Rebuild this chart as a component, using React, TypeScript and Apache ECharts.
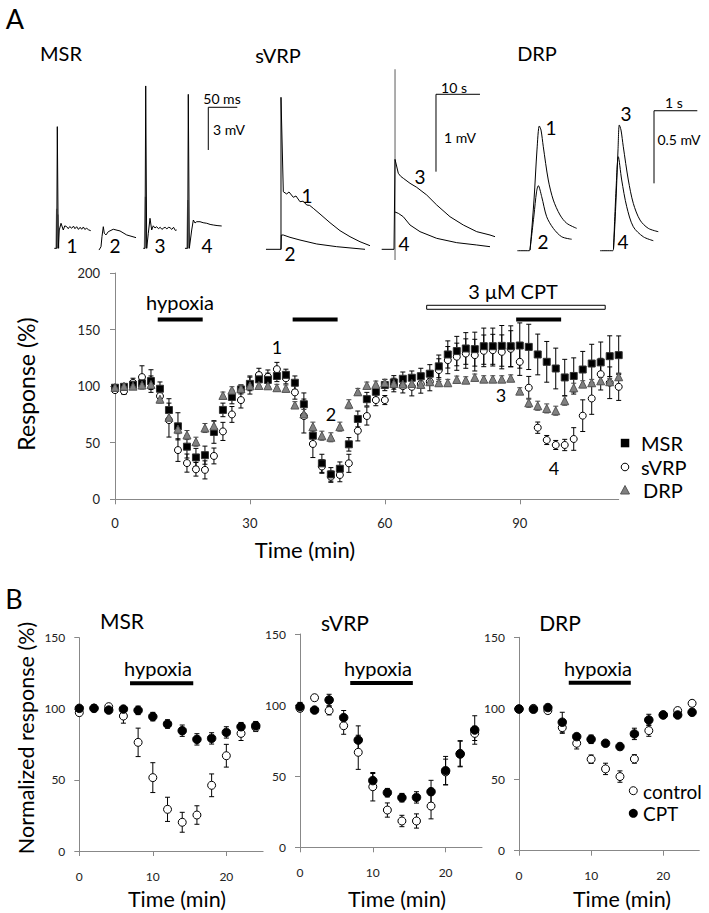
import React, { useEffect, useRef } from "react";
import * as echarts from "echarts";

const FONT = "Lato, 'Open Sans', 'DejaVu Sans', sans-serif";

// ---------- Panel A: time course (min, % response) ----------
const timeA = [0, 2, 4, 6, 8, 10, 12, 14, 16, 18, 20, 22, 24, 26, 28, 30, 32, 34, 36, 38, 40, 42, 44, 46, 48, 50, 52, 54, 56, 58, 60, 62, 64, 66, 68, 70, 72, 74, 76, 78, 80, 82, 84, 86, 88, 90, 92, 94, 96, 98, 100, 102, 104, 106, 108, 110, 112];
const msrA = [98.6, 99.4, 101.2, 102.5, 104.5, 97.7, 78.9, 64.5, 46.5, 37, 39, 59.5, 79, 90.4, 97.1, 102, 106, 105.5, 109, 110, 103, 84, 56.2, 31.8, 22, 27, 48.6, 71, 88.5, 95, 101, 103.3, 106.5, 107.4, 108.8, 111, 117.5, 128, 131, 133.3, 132.7, 135.3, 135.3, 135.6, 135.3, 135.9, 134.7, 128, 121.5, 115.6, 107.7, 109, 114.7, 120, 121, 126.5, 127.4];
const msrErrA = [2, 2, 3, 5, 10, 6, 10, 12, 10, 8, 8, 10, 6, 6, 4, 6, 6, 6, 5, 5, 6, 10, 6, 8, 6, 6, 6, 7, 6, 5, 5, 6, 6, 6, 7, 8, 10, 12, 13, 14, 15, 16, 16, 18, 18, 20, 20, 18, 18, 18, 16, 16, 16, 17, 18, 18, 17];
const svrpA = [96.5, 95.6, 103, 108, 103, 91.2, 70, 43.5, 32, 26.5, 26, 38.3, 60, 75, 87.7, 101, 109.8, 108.3, 115, 107, 94.5, 73.6, 48.9, 29, 20, 21.5, 31.8, 60.6, 73.6, 87.7, 87.7, 101, 100, 99.4, 101.8, 103.9, 114.2, 123, 126, 128.8, 127.4, 131.2, 131.8, 130.3, 133, 121.5, 98.6, 63.3, 52.4, 48, 48, 53.3, 73.9, 89.1, 110.6, 103, 99.4];
const svrpErrA = [2, 3, 4, 10, 6, 6, 15, 10, 8, 6, 8, 7, 8, 7, 7, 8, 6, 6, 6, 5, 6, 15, 12, 6, 5, 6, 8, 9, 8, 5, 4, 6, 6, 8, 8, 8, 10, 12, 12, 13, 14, 14, 14, 15, 16, 12, 10, 5, 4, 4, 5, 10, 14, 14, 14, 14, 12];
const drpA = [99, 100, 100, 101, 101.5, 88.5, 72.5, 62, 56.8, 50.9, 63, 64.8, 91.8, 96.5, 98, 100.3, 100.6, 100.3, 98.6, 98, 83.3, 75.4, 64.2, 56.2, 54.8, 64.2, 84, 95, 100.6, 101.5, 103, 102.4, 101.8, 102.4, 101.5, 103.9, 103, 103, 105.9, 105.3, 107.7, 106.2, 106.2, 106.2, 107, 95.6, 85.3, 82.7, 80.3, 78.3, 87.1, 98.6, 101.8, 103, 104.7, 103.9, 108.3];
const drpErrA = [2, 2, 2, 2, 3, 3, 4, 4, 4, 4, 4, 4, 3, 3, 3, 3, 3, 3, 3, 3, 3, 4, 4, 4, 4, 4, 4, 3, 3, 3, 3, 3, 3, 3, 3, 3, 3, 3, 3, 3, 3, 3, 3, 3, 3, 3, 4, 4, 4, 4, 4, 4, 3, 3, 3, 3, 3];
const xTicksA = [0, 30, 60, 90];
// [start, end, level]
const hypoxiaA = [[9.5, 19.5, 159], [39.5, 49.5, 159], [89.2, 99.2, 159]];
const cptA = [[69.3, 109, 169.7]];

// ---------- Panel A: example traces ----------
// MSR (ms, mV)
const msrTrace1 = [[7.4, 0.82], [11.6, 0.82], [12.6, 9.37], [14.3, 0.82], [16.0, 2.11], [19.0, 2.58], [22.9, 2.11], [25.5, 2.4], [28.8, 2.34], [31.5, 2.2], [34, 2.35], [37.4, 2.23], [40.5, 2.38], [43, 2.2], [46.0, 2.34], [49, 2.15], [52, 2.3], [54.6, 2.16], [57.5, 2.32], [60, 2.15], [63.3, 2.23], [66.5, 2.12], [70.2, 2.06]];
const msrTrace2 = [[84.5, 0.7], [87.9, 0.93], [89.6, 1.64], [91.9, 2.34], [93.6, 1.88], [96.5, 1.76], [100.5, 1.99], [109.1, 2.16], [120.7, 2.04], [132.2, 1.76], [148.3, 1.57]];
const msrTrace3 = [[160.8, 0.82], [163.8, 0.82], [165.0, 12.23], [166.7, 0.82], [169.5, 1.88], [172.4, 2.93], [175.3, 2.11], [178, 2.4], [181, 2.25], [183.9, 2.34], [187, 2.2], [190, 2.3], [193, 2.15], [195.3, 2.23], [198.5, 2.3], [201.5, 2.18], [204, 2.3], [206.9, 2.27], [210, 2.15], [213, 2.3], [216, 2.08], [218.4, 2.11]];
const msrTrace4 = [[232.7, 0.82], [237.4, 0.82], [238.4, 11.64], [240.2, 0.82], [244.3, 2.11], [247.1, 2.81], [250, 2.6], [252.9, 2.69], [258.6, 2.69], [264, 2.62], [270.2, 2.58], [276, 2.5], [281.5, 2.46], [288, 2.42], [296.0, 2.39]];
const msrArtifact1 = [[10.3, 0.82], [11.6, 3.6], [12.9, 0.82], [13.8, 3.2], [15.0, 0.82]];
const msrArtifact3 = [[162.9, 0.82], [164.6, 4.45], [166.2, 0.82]];
const msrArtifact4 = [[236.0, 0.82], [237.7, 4.22], [239.5, 0.82]];
const msrScale = [[322.9, 10.73], [272.9, 10.73], [272.9, 7.73]];
// sVRP (s, mV)
const svrpTrace1 = [[1.36, 0.138], [4.77, 0.138], [4.77, 2.102], [5.3, 0.882], [6.07, 0.853], [6.59, 0.879], [7.57, 0.81], [8.18, 0.827], [9.09, 0.753], [9.8, 0.76], [10.61, 0.711], [11.3, 0.705], [12.11, 0.668], [13.64, 0.594], [15.91, 0.482], [18.18, 0.379], [20.46, 0.301], [22.73, 0.236], [25.0, 0.185]];
const svrpTrace2 = [[4.77, 0.138], [4.85, 0.323], [5.3, 0.323], [6.82, 0.293], [9.09, 0.258], [12.89, 0.207], [17.43, 0.172], [23.87, 0.138]];
const svrpTrace3 = [[27.66, 0.138], [30.46, 0.138], [30.69, 1.3], [31.44, 1.12], [32.0, 1.08], [32.57, 1.056], [34.1, 0.991], [35.62, 0.939], [37.89, 0.84], [40.16, 0.711], [43.19, 0.559], [46.21, 0.452], [49.26, 0.366], [52.28, 0.323], [53.42, 0.301]];
const svrpTrace4 = [[30.69, 0.62], [31.44, 0.603], [32.57, 0.559], [34.1, 0.452], [36.37, 0.366], [40.16, 0.28], [44.71, 0.224], [49.26, 0.194], [52.28, 0.172]];
const svrpArtifact34 = [[30.69, 0], [30.69, 2.464]];
const svrpScale = [[50.0, 2.141], [40.0, 2.141], [40.0, 1.141]];
// DRP (s, mV)
const drpTrace1 = [[0.169, 0.064], [0.446, 0.064], [0.462, 0.069], [0.554, 0.413], [0.623, 0.758], [0.677, 0.923], [0.716, 0.895], [0.769, 0.78], [0.884, 0.551], [1.0, 0.413], [1.155, 0.31], [1.309, 0.253], [1.54, 0.218]];
const drpTrace2 = [[0.462, 0.069], [0.554, 0.31], [0.612, 0.468], [0.653, 0.512], [0.732, 0.436], [0.847, 0.298], [1.0, 0.218], [1.194, 0.16], [1.425, 0.143]];
const drpTrace3 = [[2.078, 0.064], [2.371, 0.064], [2.39, 0.076], [2.448, 0.413], [2.494, 0.758], [2.524, 0.93], [2.563, 0.895], [2.616, 0.78], [2.732, 0.551], [2.847, 0.39], [3.002, 0.275], [3.193, 0.218], [3.424, 0.195]];
const drpTrace4 = [[2.39, 0.076], [2.448, 0.482], [2.501, 0.711], [2.579, 0.551], [2.695, 0.367], [2.847, 0.229], [3.078, 0.16], [3.309, 0.133]];
const drpScale = [[4.325, 1.028], [3.325, 1.028], [3.325, 0.528]];

// ---------- Panel B: normalized response ----------
const timeB = [0, 2, 4, 6, 8, 10, 12, 14, 16, 18, 20, 22, 24];
const xTicksB = [0, 10, 20];
const msrCtrlB = [97.3, 100.5, 101.5, 94.9, 76.4, 51.6, 29.3, 20.2, 25.3, 46.2, 67, 82.7, 87];
const msrCtrlErrB = [2, 1, 1, 5, 10, 10.5, 8.5, 7, 6.5, 8, 8, 5, 3];
const msrCptB = [100.3, 100.3, 99.1, 99.8, 98.9, 94.5, 89.3, 84.6, 78.5, 79.2, 83.4, 87.4, 88.1];
const msrCptErrB = [1, 1, 2, 2, 3, 3, 3, 4, 4, 4, 4, 3, 3];
const svrpCtrlB = [97.7, 105.2, 96.1, 85.5, 66.8, 42.6, 26.2, 18.5, 18.5, 29, 53, 66, 80.1];
const svrpCtrlErrB = [2, 2, 3, 6, 12, 10, 5, 4, 5, 9, 9, 9, 5];
const svrpCptB = [98.9, 96.5, 103.6, 91.2, 75.4, 46.9, 38.4, 34.9, 35.1, 39.1, 53.9, 65.6, 82.5];
const svrpCptErrB = [3, 2, 4, 5, 10, 5, 3, 3, 4, 8, 10, 9, 10];
const drpCtrlB = [99.6, 100, 98.5, 86.5, 75.5, 64.3, 57.5, 52.1, 64.5, 84.4, 95.5, 98.5, 103.6];
const drpCtrlErrB = [1, 1, 2, 4, 4, 3, 4, 4, 3, 4, 2, 2, 2];
const drpCptB = [99.6, 99.4, 100.6, 90.3, 80.2, 78.3, 75.5, 73.2, 82.1, 91.9, 95.4, 95.4, 97.3];
const drpCptErrB = [1, 1, 1, 7, 2, 3, 2, 2, 4, 4, 2, 2, 2];
const hypoxiaB = [[6.9, 15.5, 118], [6.9, 15.5, 115.5], [6.9, 15.5, 118]];

const AX = "#888";

function valueAxis(grid: number, min: number, max: number, opts: any = {}) {
  return {
    type: "value",
    gridIndex: grid,
    min,
    max,
    interval: opts.interval,
    axisLine: { show: true, onZero: false, lineStyle: { color: AX, width: 1 } },
    axisTick: { show: true, length: 5, lineStyle: { color: AX }, customValues: opts.ticks },
    axisLabel: {
      show: true,
      customValues: opts.ticks,
      fontSize: opts.fontSize || 13,
      fontFamily: FONT,
      color: "#222",
      margin: opts.margin || 14,
    },
    splitLine: { show: false },
  };
}

function hiddenAxis(grid: number, min: number, max: number) {
  return { type: "value", gridIndex: grid, min, max, show: false, splitLine: { show: false } };
}

function errSeries(xi: number, xs: number[], ys: number[], es: number[], color: string, name: string) {
  return {
    type: "custom",
    name,
    xAxisIndex: xi,
    yAxisIndex: xi,
    silent: true,
    clip: false,
    data: xs.map((x, i) => [x, ys[i], es[i]]),
    encode: { x: 0, y: 1 },
    renderItem: (_p: any, api: any) => {
      const x = api.value(0);
      const y = api.value(1);
      const e = api.value(2);
      const a = api.coord([x, y + e]);
      const b = api.coord([x, y - e]);
      const st = { stroke: color, lineWidth: 1 };
      return {
        type: "group",
        children: [
          { type: "line", shape: { x1: a[0], y1: a[1], x2: b[0], y2: b[1] }, style: st },
          { type: "line", shape: { x1: a[0] - 2.5, y1: a[1], x2: a[0] + 2.5, y2: a[1] }, style: st },
          { type: "line", shape: { x1: b[0] - 2.5, y1: b[1], x2: b[0] + 2.5, y2: b[1] }, style: st },
        ],
      };
    },
  };
}

function pts(xi: number, xs: number[], ys: number[], name: string, symbol: string, size: number, fill: string, border: string) {
  return {
    type: "scatter",
    name,
    xAxisIndex: xi,
    yAxisIndex: xi,
    symbol,
    symbolSize: size,
    silent: true,
    data: xs.map((x, i) => [x, ys[i]]),
    itemStyle: { color: fill, borderColor: border, borderWidth: 1, opacity: 1 },
  };
}

function barSeries(xi: number, bars: number[][], open: boolean) {
  return {
    type: "custom",
    xAxisIndex: xi,
    yAxisIndex: xi,
    silent: true,
    clip: false,
    data: bars,
    encode: { x: [0, 1], y: 2 },
    renderItem: (_p: any, api: any) => {
      const s = api.coord([api.value(0), api.value(2)]);
      const e = api.coord([api.value(1), api.value(2)]);
      return {
        type: "rect",
        shape: { x: s[0], y: s[1] - 2, width: e[0] - s[0], height: 4 },
        style: open ? { fill: "#fff", stroke: "#000", lineWidth: 1 } : { fill: "#000" },
      };
    },
  };
}

function trace(xi: number, data: number[][], color = "#000", width = 1, smooth: any = false) {
  return {
    type: "line",
    xAxisIndex: xi,
    yAxisIndex: xi,
    data,
    showSymbol: false,
    symbol: "none",
    silent: true,
    clip: false,
    smooth,
    lineStyle: { color, width },
  };
}

function txt(text: string, x: number, y: number, size: number, opts: any = {}) {
  return {
    type: "text",
    x,
    y,
    rotation: opts.rot || 0,
    silent: true,
    style: {
      text,
      fontSize: size,
      fontFamily: FONT,
      fill: "#000",
      align: opts.align || "center",
      verticalAlign: "middle",
      textAlign: opts.align || "center",
      textVerticalAlign: "middle",
    },
  };
}

function buildOption() {
  const grids = [
    { left: 115, top: 273, width: 503.7, height: 226.3 }, // 0 main
    { left: 50, top: 70, width: 200, height: 190 }, // 1 MSR traces
    { left: 260, top: 60, width: 240, height: 200 }, // 2 sVRP traces
    { left: 510, top: 80, width: 190, height: 180 }, // 3 DRP traces
    { left: 79.3, top: 637.7, width: 183.8, height: 213.3 }, // 4 B MSR
    { left: 300, top: 634, width: 182, height: 213.3 }, // 5 B sVRP
    { left: 519, top: 637.3, width: 180.3, height: 213.4 }, // 6 B DRP
  ];

  const xAxis = [
    valueAxis(0, 0, 112, { ticks: xTicksA, margin: 17 }),
    hiddenAxis(1, 0, 344.8),
    hiddenAxis(2, 0, 54.55),
    hiddenAxis(3, 0, 4.387),
    valueAxis(4, 0, 25, { ticks: xTicksB, fontSize: 12, margin: 19 }),
    valueAxis(5, 0, 25, { ticks: xTicksB, fontSize: 12, margin: 19 }),
    valueAxis(6, 0, 25, { ticks: xTicksB, fontSize: 12, margin: 19 }),
  ];
  const yAxis = [
    valueAxis(0, 0, 200, { interval: 50, margin: 15 }),
    hiddenAxis(1, 0, 13.35),
    hiddenAxis(2, 0, 2.584),
    hiddenAxis(3, 0, 1.2397),
    valueAxis(4, 0, 150, { interval: 50, fontSize: 12, margin: 14 }),
    valueAxis(5, 0, 150, { interval: 50, fontSize: 12, margin: 14 }),
    valueAxis(6, 0, 150, { interval: 50, fontSize: 12, margin: 14 }),
  ];

  const series: any[] = [
    // main A
    barSeries(0, hypoxiaA, false),
    barSeries(0, cptA, true),
    errSeries(0, timeA, svrpA, svrpErrA, "#000", "sVRP err"),
    pts(0, timeA, svrpA, "sVRP", "circle", 7, "#fff", "#000"),
    errSeries(0, timeA, msrA, msrErrA, "#000", "MSR err"),
    pts(0, timeA, msrA, "MSR", "rect", 7, "#000", "#333"),
    errSeries(0, timeA, drpA, drpErrA, "#444", "DRP err"),
    pts(0, timeA, drpA, "DRP", "triangle", 8, "#808080", "#555"),
    // traces
    trace(1, msrArtifact1, "#9a9a9a", 1.5),
    trace(1, msrArtifact3, "#9a9a9a", 1.5),
    trace(1, msrArtifact4, "#9a9a9a", 1.5),
    trace(1, msrTrace1),
    trace(1, msrTrace2),
    trace(1, msrTrace3),
    trace(1, msrTrace4),
    trace(1, msrScale),
    trace(2, svrpArtifact34, "#777", 1.2),
    trace(2, svrpTrace1),
    trace(2, svrpTrace2),
    trace(2, svrpTrace3),
    trace(2, svrpTrace4),
    trace(2, svrpScale),
    trace(3, drpTrace1, "#000", 1, 0.3),
    trace(3, drpTrace2, "#000", 1, 0.3),
    trace(3, drpTrace3, "#000", 1, 0.3),
    trace(3, drpTrace4, "#000", 1, 0.3),
    trace(3, drpScale),
  ];

  const bSets = [
    [msrCtrlB, msrCtrlErrB, msrCptB, msrCptErrB],
    [svrpCtrlB, svrpCtrlErrB, svrpCptB, svrpCptErrB],
    [drpCtrlB, drpCtrlErrB, drpCptB, drpCptErrB],
  ];
  bSets.forEach((s, k) => {
    const gi = 4 + k;
    series.push(barSeries(gi, [hypoxiaB[k]], false));
    series.push(errSeries(gi, timeB, s[0], s[1], "#000", "control err"));
    series.push(pts(gi, timeB, s[0], "control", "circle", 8, "#fff", "#000"));
    series.push(errSeries(gi, timeB, s[2], s[3], "#000", "CPT err"));
    series.push(pts(gi, timeB, s[2], "CPT", "circle", 8.5, "#000", "#000"));
  });

  const graphic: any[] = [
    txt("A", 15, 18, 27),
    txt("B", 14, 598, 27),
    txt("MSR", 61, 53, 20),
    txt("sVRP", 278, 55, 20),
    txt("DRP", 537, 53, 20),
    // trace labels
    txt("1", 72, 245, 19), txt("2", 115, 245, 19), txt("3", 160, 245, 19), txt("4", 207, 245, 19),
    txt("1", 307, 195, 19), txt("2", 290, 253, 19), txt("3", 420, 176, 19), txt("4", 404, 243, 19),
    txt("1", 551, 127, 19), txt("2", 543, 241, 19), txt("3", 626, 113, 19), txt("4", 623, 241, 19),
    // scale bar labels
    txt("50 ms", 222, 98, 14), txt("3 mV", 229, 129, 14),
    txt("10 s", 454, 87, 14), txt("1 mV", 460, 137, 14),
    txt("1 s", 674, 102, 14), txt("0.5 mV", 679, 139, 14),
    // main chart annotations
    txt("hypoxia", 180, 302, 20),
    txt("3 μM CPT", 513, 291, 20),
    txt("1", 277, 347, 18), txt("2", 331, 414, 18), txt("3", 501, 395, 18), txt("4", 554, 468, 18),
    txt("Response (%)", 26, 384, 23, { rot: Math.PI / 2 }),
    txt("Time (min)", 305, 549, 22),
    // main legend
    { type: "rect", silent: true, shape: { x: 620.8, y: 438.8, width: 8.5, height: 8.5 }, style: { fill: "#000" } },
    { type: "circle", silent: true, shape: { cx: 625, cy: 467, r: 3.8 }, style: { fill: "#fff", stroke: "#000", lineWidth: 1 } },
    { type: "polygon", silent: true, shape: { points: [[625, 485.5], [629.5, 494], [620.5, 494]] }, style: { fill: "#808080", stroke: "#555", lineWidth: 1 } },
    txt("MSR", 641, 443, 20, { align: "left" }),
    txt("sVRP", 641, 467, 20, { align: "left" }),
    txt("DRP", 643, 490, 20, { align: "left" }),
    // panel B titles
    txt("MSR", 122, 620, 21),
    txt("sVRP", 345, 622, 21),
    txt("DRP", 560, 622, 21),
    txt("hypoxia", 158, 668, 20),
    txt("hypoxia", 378, 668, 20),
    txt("hypoxia", 598, 668, 20),
    txt("Normalized response (%)", 26, 738, 21.5, { rot: Math.PI / 2 }),
    txt("Time (min)", 177, 899, 21.5),
    txt("Time (min)", 397, 899, 21.5),
    txt("Time (min)", 622, 899, 21.5),
    // panel B legend
    { type: "circle", silent: true, shape: { cx: 633.3, cy: 790.7, r: 4 }, style: { fill: "#fff", stroke: "#000", lineWidth: 1 } },
    { type: "circle", silent: true, shape: { cx: 633.3, cy: 813.3, r: 4.5 }, style: { fill: "#000" } },
    txt("control", 643, 791, 19, { align: "left" }),
    txt("CPT", 643, 813, 19, { align: "left" }),
  ];

  return {
    animation: false,
    backgroundColor: "#fff",
    grid: grids,
    xAxis,
    yAxis,
    series,
    graphic,
  };
}

export default function App() {
  const ref = useRef<HTMLDivElement>(null);
  useEffect(() => {
    if (!ref.current) return;
    const chart = echarts.init(ref.current, null, { renderer: "svg" });
    chart.setOption(buildOption() as any);
    return () => chart.dispose();
  }, []);
  return (
    <div
      ref={ref}
      style={{ position: "fixed", left: 0, top: 0, width: 709, height: 913, background: "#fff" }}
    />
  );
}
